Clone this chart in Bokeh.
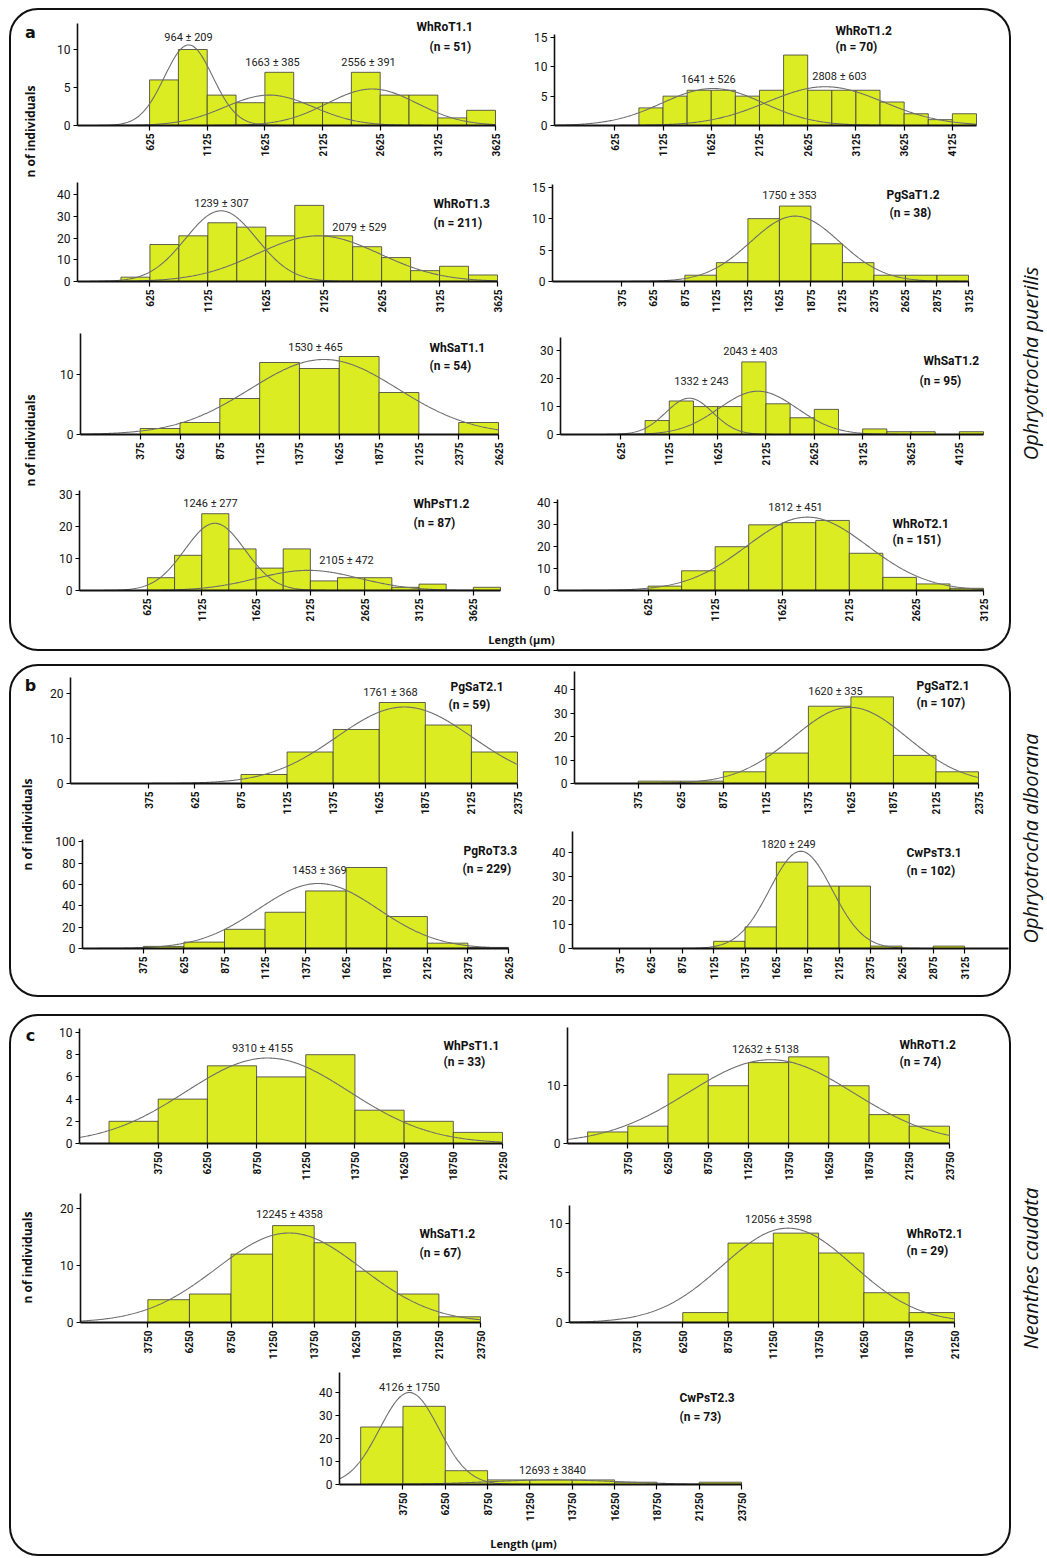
import math
import numpy as np
from bokeh.plotting import figure
from bokeh.layouts import row, column
from bokeh.models import Spacer, FixedTicker, Range1d
from bokeh.core.properties import value
from bokeh.embed import file_html
from bokeh.resources import INLINE

# ====================== DATA ======================
# ---- a: Ophryotrocha puerilis ----
a1_name, a1_n = "WhRoT1.1", 51
a1_bins = (625, 250)            # first bin left edge, bin width (µm)
a1_counts = [6, 10, 4, 3, 7, 3, 3, 7, 4, 4, 1, 2]
a1_mean, a1_sd, a1_peak = [964, 1663, 2556], [209, 385, 391], [10.6, 4.0, 4.8]
a1_xticks, a1_yticks = [625, 1125, 1625, 2125, 2625, 3125, 3625], [0, 5, 10]

a2_name, a2_n = "WhRoT1.2", 70
a2_bins = (875, 250)
a2_counts = [3, 5, 6, 6, 5, 6, 12, 6, 6, 6, 4, 2, 1, 2]
a2_mean, a2_sd, a2_peak = [1641, 2808], [526, 603], [6.3, 6.6]
a2_xticks, a2_yticks = [625, 1125, 1625, 2125, 2625, 3125, 3625, 4125], [0, 5, 10, 15]

a3_name, a3_n = "WhRoT1.3", 211
a3_bins = (375, 250)
a3_counts = [2, 17, 21, 27, 25, 21, 35, 21, 16, 11, 5, 7, 3]
a3_mean, a3_sd, a3_peak = [1239, 2079], [307, 529], [32.5, 21.0]
a3_xticks, a3_yticks = [625, 1125, 1625, 2125, 2625, 3125, 3625], [0, 10, 20, 30, 40]

a4_name, a4_n = "PgSaT1.2", 38
a4_bins = (875, 250)
a4_counts = [1, 3, 10, 12, 6, 3, 1, 1, 1]
a4_mean, a4_sd, a4_peak = [1750], [353], [10.4]
a4_xticks = [375, 625, 875, 1125, 1375, 1625, 1875, 2125, 2375, 2625, 2875, 3125]
a4_tick_text = {1375: "1325"}   # as printed in the original
a4_yticks = [0, 5, 10, 15]

a5_name, a5_n = "WhSaT1.1", 54
a5_bins = (375, 250)
a5_counts = [1, 2, 6, 12, 11, 13, 7, 0, 2]
a5_mean, a5_sd, a5_peak = [1530], [465], [12.5]
a5_xticks = [375, 625, 875, 1125, 1375, 1625, 1875, 2125, 2375, 2625]
a5_yticks = [0, 10]

a6_name, a6_n = "WhSaT1.2", 95
a6_bins = (875, 250)
a6_counts = [5, 12, 10, 10, 26, 11, 6, 9, 0, 2, 1, 1, 0, 1]
a6_mean, a6_sd, a6_peak = [1332, 2043], [243, 403], [13.0, 15.5]
a6_xticks, a6_yticks = [625, 1125, 1625, 2125, 2625, 3125, 3625, 4125], [0, 10, 20, 30]

a7_name, a7_n = "WhPsT1.2", 87
a7_bins = (625, 250)
a7_counts = [4, 11, 24, 13, 7, 13, 3, 4, 4, 1, 2, 0, 1]
a7_mean, a7_sd, a7_peak = [1246, 2105], [277, 472], [21.0, 6.3]
a7_xticks, a7_yticks = [625, 1125, 1625, 2125, 2625, 3125, 3625], [0, 10, 20, 30]

a8_name, a8_n = "WhRoT2.1", 151
a8_bins = (625, 250)
a8_counts = [2, 9, 20, 30, 31, 32, 17, 6, 3, 1]
a8_mean, a8_sd, a8_peak = [1812], [451], [33.5]
a8_xticks, a8_yticks = [625, 1125, 1625, 2125, 2625, 3125], [0, 10, 20, 30, 40]

# ---- b: Ophryotrocha alborana ----
b1_name, b1_n = "PgSaT2.1", 59
b1_bins = (875, 250)
b1_counts = [2, 7, 12, 18, 13, 7]
b1_mean, b1_sd, b1_peak = [1761], [368], [17.0]
b1_xticks = [375, 625, 875, 1125, 1375, 1625, 1875, 2125, 2375]
b1_yticks = [0, 10, 20]

b2_name, b2_n = "PgSaT2.1", 107
b2_bins = (375, 250)
b2_counts = [1, 1, 5, 13, 33, 37, 12, 5]
b2_mean, b2_sd, b2_peak = [1620], [335], [32.5]
b2_xticks = [375, 625, 875, 1125, 1375, 1625, 1875, 2125, 2375]
b2_yticks = [0, 10, 20, 30, 40]

b3_name, b3_n = "PgRoT3.3", 229
b3_bins = (375, 250)
b3_counts = [2, 6, 18, 34, 54, 76, 30, 5, 1]
b3_mean, b3_sd, b3_peak = [1453], [369], [61.0]
b3_xticks = [375, 625, 875, 1125, 1375, 1625, 1875, 2125, 2375, 2625]
b3_yticks = [0, 20, 40, 60, 80, 100]

b4_name, b4_n = "CwPsT3.1", 102
b4_bins = (1125, 250)
b4_counts = [3, 9, 36, 26, 26, 1, 0, 1]
b4_mean, b4_sd, b4_peak = [1820], [249], [40.5]
b4_xticks = [375, 625, 875, 1125, 1375, 1625, 1875, 2125, 2375, 2625, 2875, 3125]
b4_yticks = [0, 10, 20, 30, 40]

# ---- c: Neanthes caudata ----
c1_name, c1_n = "WhPsT1.1", 33
c1_bins = (1250, 2500)
c1_counts = [2, 4, 7, 6, 8, 3, 2, 1]
c1_mean, c1_sd, c1_peak = [9310], [4155], [7.7]
c1_xticks = [3750, 6250, 8750, 11250, 13750, 16250, 18750, 21250]
c1_yticks = [0, 2, 4, 6, 8, 10]

c2_name, c2_n = "WhRoT1.2", 74
c2_bins = (1250, 2500)
c2_counts = [2, 3, 12, 10, 14, 15, 10, 5, 3]
c2_mean, c2_sd, c2_peak = [12632], [5138], [14.5]
c2_xticks = [3750, 6250, 8750, 11250, 13750, 16250, 18750, 21250, 23750]
c2_yticks = [0, 10]

c3_name, c3_n = "WhSaT1.2", 67
c3_bins = (3750, 2500)
c3_counts = [4, 5, 12, 17, 14, 9, 5, 1]
c3_mean, c3_sd, c3_peak = [12245], [4358], [15.7]
c3_xticks = [3750, 6250, 8750, 11250, 13750, 16250, 18750, 21250, 23750]
c3_yticks = [0, 10, 20]

c4_name, c4_n = "WhRoT2.1", 29
c4_bins = (6250, 2500)
c4_counts = [1, 8, 9, 7, 3, 1]
c4_mean, c4_sd, c4_peak = [12056], [3598], [9.5]
c4_xticks = [3750, 6250, 8750, 11250, 13750, 16250, 18750, 21250]
c4_yticks = [0, 5, 10]

c5_name, c5_n = "CwPsT2.3", 73
c5_bins = (1250, 2500)
c5_counts = [25, 34, 6, 2, 2, 2, 1, 0, 1]
c5_mean, c5_sd, c5_peak = [4126, 12693], [1750, 3840], [40.0, 2.0]
c5_xticks = [3750, 6250, 8750, 11250, 13750, 16250, 18750, 21250, 23750]
c5_yticks = [0, 10, 20, 30, 40]

species = ["Ophryotrocha puerilis", "Ophryotrocha alborana", "Neanthes caudata"]
y_title = "n of individuals"
x_title = "Length (μm)"

# ====================== STYLE / GEOMETRY (page pixels) ======================
FILL = "#dcec22"
BAR_LINE = "#3a3a3a"
CURVE = "#6e6e6e"
NUM_FONT = "Roboto"
LBL_FONT = "Open Sans"


def G(fl, fr, top, bot, xl, xr, x0, x1, zero, ppu, ytop):
    return dict(fl=fl, fr=fr, top=top, bot=bot, xl=xl, xr=xr, x0=x0, x1=x1,
                zero=zero, ppu=ppu, ytop=ytop)


def to_data(g, px, py):
    xd = g["x0"] + (px - g["xl"]) / (g["xr"] - g["xl"]) * (g["x1"] - g["x0"])
    yd = (g["zero"] - py) / g["ppu"]
    return xd, yd


def transparent(p):
    p.outline_line_color = None
    p.background_fill_color = None
    p.border_fill_color = None
    p.grid.visible = False


def panel(g, bins, counts, means, sds, peaks, xticks, yticks, name, n,
          stat_pos, name_pos, n_pos, overrides=None):
    w = g["fr"] - g["fl"]
    h = g["bot"] - g["top"]
    y1 = (g["zero"] - g["top"]) / g["ppu"]
    frame_r = max(g["xr"], g["fr"] - 3)
    x_end = to_data(g, frame_r, 0)[0]
    p = figure(width=w, height=h,
               x_range=Range1d(g["x0"], x_end), y_range=Range1d(0, y1),
               min_border_left=g["xl"] - g["fl"], min_border_right=g["fr"] - frame_r,
               min_border_top=0, min_border_bottom=g["bot"] - g["zero"],
               toolbar_location=None, output_backend="svg")
    transparent(p)

    lefts = [bins[0] + i * bins[1] for i in range(len(counts))]
    rights = [l + bins[1] for l in lefts]
    p.quad(left=lefts, right=rights, bottom=0, top=counts,
           fill_color=FILL, line_color=BAR_LINE, line_width=0.8)

    xs = np.linspace(g["x0"], g["x1"], 400)
    for m, s, pk in zip(means, sds, peaks):
        ys = pk * np.exp(-0.5 * ((xs - m) / s) ** 2)
        p.line(xs, ys, line_color=CURVE, line_width=1.1)

    for (px, py), m, s in zip(stat_pos, means, sds):
        xd, yd = to_data(g, px, py)
        p.text(x=[xd], y=[yd], text=[f"{m} ± {s}"], text_font=value(NUM_FONT),
               text_font_size="11px", text_align="center", text_baseline="middle",
               text_color="#222222")
    xd, yd = to_data(g, *name_pos)
    p.text(x=[xd], y=[yd], text=[name], text_font=value(NUM_FONT), text_font_style="bold",
           text_font_size="12px", text_align="left", text_baseline="middle",
           text_color="#111111")
    xd, yd = to_data(g, *n_pos)
    p.text(x=[xd], y=[yd], text=[f"(n = {n})"], text_font=value(NUM_FONT),
           text_font_style="bold", text_font_size="12px", text_align="left",
           text_baseline="middle", text_color="#111111")

    xa = p.xaxis[0]
    xa.ticker = FixedTicker(ticks=xticks)
    xa.bounds = (g["x0"], g["x1"])
    xa.major_label_orientation = math.pi / 2
    xa.axis_line_width = 2.2
    xa.axis_line_color = "#111111"
    xa.major_tick_out = 5
    xa.major_tick_in = 0
    xa.major_tick_line_width = 1.2
    xa.minor_tick_out = 0
    xa.minor_tick_in = 0
    xa.major_label_standoff = 3
    xa.major_label_text_font = NUM_FONT
    xa.major_label_text_font_style = "bold"
    xa.major_label_text_font_size = "10px"
    xa.major_label_text_color = "#111111"
    if overrides:
        xa.major_label_overrides = overrides

    ya = p.yaxis[0]
    ya.ticker = FixedTicker(ticks=yticks)
    ya.bounds = (0, g["ytop"])
    ya.axis_line_width = 1.6
    ya.axis_line_color = "#111111"
    ya.major_tick_out = 4
    ya.major_tick_in = 0
    ya.major_tick_line_width = 1.2
    ya.minor_tick_out = 0
    ya.minor_tick_in = 0
    ya.major_label_standoff = 3
    ya.major_label_text_font = NUM_FONT
    ya.major_label_text_font_size = "12px"
    ya.major_label_text_color = "#111111"
    return p


def text_fig(w, h, items):
    p = figure(width=w, height=h, x_range=Range1d(0, w), y_range=Range1d(h, 0),
               min_border=0, toolbar_location=None, output_backend="svg",
               x_axis_location=None, y_axis_location=None)
    transparent(p)
    for (t, x, y, font, size, style, ang) in items:
        p.text(x=[x], y=[y], text=[t], text_font=value(font), text_font_size=size,
               text_font_style=style, angle=ang, text_align="center",
               text_baseline="middle", text_color="#111111")
    return p


V = math.pi / 2
BOX_STYLE = {"outline": "2.5px solid #111111", "outline-offset": "-3px",
             "border-radius": "30px"}

# ---------------- section a ----------------
A1 = panel(G(45, 515, 7, 178, 77, 495, 0, 3625, 125, 7.6, 13.4), a1_bins, a1_counts,
           a1_mean, a1_sd, a1_peak, a1_xticks, a1_yticks, a1_name, a1_n,
           [(188, 37), (272, 62), (368, 62)], (416, 26), (429, 46))
A2 = panel(G(515, 1010, 7, 178, 554, 976, 0, 4375, 137, 6.47, 15.5), a2_bins, a2_counts,
           a2_mean, a2_sd, a2_peak, a2_xticks, a2_yticks, a2_name, a2_n,
           [(708, 86), (839, 83)], (835, 33), (835, 50))
A3 = panel(G(45, 515, 178, 330, 77, 497, 0, 3625, 281, 2.175, 45.5), a3_bins, a3_counts,
           a3_mean, a3_sd, a3_peak, a3_xticks, a3_yticks, a3_name, a3_n,
           [(221, 203), (359, 227)], (433, 203), (433, 222))
A4 = panel(G(515, 1010, 178, 330, 552, 968, -175, 3125, 284, 6.47, 15.5), a4_bins, a4_counts,
           a4_mean, a4_sd, a4_peak, a4_xticks, a4_yticks, a4_name, a4_n,
           [(789, 195)], (886, 195), (889, 213), overrides=a4_tick_text)
A5 = panel(G(45, 515, 330, 486, 80, 498, 0, 2625, 434, 6.0, 16.8), a5_bins, a5_counts,
           a5_mean, a5_sd, a5_peak, a5_xticks, a5_yticks, a5_name, a5_n,
           [(315, 347)], (429, 347), (429, 365))
A6 = panel(G(515, 1010, 330, 486, 560, 983, 0, 4375, 438, 2.9, 34.8), a6_bins, a6_counts,
           a6_mean, a6_sd, a6_peak, a6_xticks, a6_yticks, a6_name, a6_n,
           [(701, 383), (750, 352)], (923, 362), (919, 382))
A7 = panel(G(45, 515, 486, 631, 79, 500, 0, 3875, 590, 3.2, 31.3), a7_bins, a7_counts,
           a7_mean, a7_sd, a7_peak, a7_xticks, a7_yticks, a7_name, a7_n,
           [(210, 503), (346, 560)], (413, 503), (413, 522))
A8 = panel(G(515, 1010, 486, 631, 557, 983, -50, 3125, 600, 2.4, 41.7), a8_bins, a8_counts,
           a8_mean, a8_sd, a8_peak, a8_xticks, a8_yticks, a8_name, a8_n,
           [(795, 509)], (892, 527), (892, 545))
XL_a = text_fig(965, 21, [(x_title, 521 - 45, 8, LBL_FONT, "11px", "bold", 0)])

lab_a = text_fig(37, 645, [("a", 22, 25, "DejaVu Sans", "16px", "bold", 0),
                           (y_title, 22, 124, LBL_FONT, "12px", "bold", V),
                           (y_title, 22, 433, LBL_FONT, "12px", "bold", V)])
sp_a = text_fig(35, 645, [(species[0], 18, 356, LBL_FONT, "20px", "italic", V)])
box_a = column(row(lab_a, column(row(A1, A2), row(A3, A4), row(A5, A6),
                                 row(A7, A8), XL_a)),
               width=1004, height=645, styles=BOX_STYLE)

# ---------------- section b ----------------
B1 = panel(G(45, 525, 663, 830, 70, 517, -50, 2375, 783, 4.5, 23.6), b1_bins, b1_counts,
           b1_mean, b1_sd, b1_peak, b1_xticks, b1_yticks, b1_name, b1_n,
           [(390, 692)], (450, 686), (448, 704))
B2 = panel(G(525, 1010, 663, 830, 574, 978, 0, 2375, 787, 2.42, 48.0), b2_bins, b2_counts,
           b2_mean, b2_sd, b2_peak, b2_xticks, b2_yticks, b2_name, b2_n,
           [(835, 692)], (916, 686), (916, 704))
B3 = panel(G(45, 525, 830, 998, 82, 508, 0, 2625, 954, 1.12, 102), b3_bins, b3_counts,
           b3_mean, b3_sd, b3_peak, b3_xticks, b3_yticks, b3_name, b3_n,
           [(319, 872)], (463, 852), (462, 870))
B4 = panel(G(525, 1010, 830, 998, 572, 1008, 0, 3475, 948, 2.4, 48.7), b4_bins, b4_counts,
           b4_mean, b4_sd, b4_peak, b4_xticks, b4_yticks, b4_name, b4_n,
           [(788, 844)], (906, 852), (906, 870))

lab_b = text_fig(37, 335, [("b", 22, 22, "DejaVu Sans", "16px", "bold", 0),
                           (y_title, 19, 161, LBL_FONT, "12px", "bold", V)])
sp_b = text_fig(35, 335, [(species[1], 18, 175, LBL_FONT, "20px", "italic", V)])
box_b = column(row(lab_b, column(row(B1, B2), row(B3, B4))),
               width=1004, height=335, styles=BOX_STYLE)

# ---------------- section c ----------------
C1 = panel(G(45, 515, 1013, 1188, 79, 502, -250, 21250, 1143, 11.1, 10.4), c1_bins, c1_counts,
           c1_mean, c1_sd, c1_peak, c1_xticks, c1_yticks, c1_name, c1_n,
           [(262, 1048)], (443, 1045), (443, 1061))
C2 = panel(G(515, 1010, 1013, 1188, 567, 949, 0, 23750, 1148, 6.0, 20.0), c2_bins, c2_counts,
           c2_mean, c2_sd, c2_peak, c2_xticks, c2_yticks, c2_name, c2_n,
           [(765, 1050)], (899, 1046), (899, 1063))
C3 = panel(G(45, 515, 1188, 1370, 80, 480, -300, 23750, 1322, 5.7, 22.6), c3_bins, c3_counts,
           c3_mean, c3_sd, c3_peak, c3_xticks, c3_yticks, c3_name, c3_n,
           [(289, 1214)], (419, 1233), (419, 1252))
C4 = panel(G(515, 1010, 1188, 1370, 569, 954, 0, 21250, 1327, 10.3, 11.8), c4_bins, c4_counts,
           c4_mean, c4_sd, c4_peak, c4_xticks, c4_yticks, c4_name, c4_n,
           [(778, 1220)], (906, 1235), (906, 1253))
C5 = panel(G(290, 790, 1370, 1530, 339, 741, 0, 23750, 1484, 2.3, 48.7), c5_bins, c5_counts,
           c5_mean, c5_sd, c5_peak, c5_xticks, c5_yticks, c5_name, c5_n,
           [(409, 1387), (552, 1470)], (679, 1397), (679, 1416))
XL_c = text_fig(965, 27, [(x_title, 523 - 45, 13, LBL_FONT, "11px", "bold", 0)])

lab_c = text_fig(37, 544, [("c", 22, 22, "DejaVu Sans", "16px", "bold", 0),
                           (y_title, 19, 244, LBL_FONT, "12px", "bold", V)])
sp_c = text_fig(35, 544, [(species[2], 18, 255, LBL_FONT, "20px", "italic", V)])
box_c = column(row(lab_c, column(row(C1, C2), row(C3, C4),
                                 row(Spacer(width=245, height=160), C5), XL_c)),
               width=1004, height=544, styles=BOX_STYLE)

root = column(
    Spacer(width=1047, height=7),
    row(Spacer(width=8, height=645), box_a, sp_a),
    Spacer(width=1047, height=11),
    row(Spacer(width=8, height=335), box_b, sp_b),
    Spacer(width=1047, height=15),
    row(Spacer(width=8, height=544), box_c, sp_c),
)

open("out.html", "w").write(file_html(root, INLINE))
